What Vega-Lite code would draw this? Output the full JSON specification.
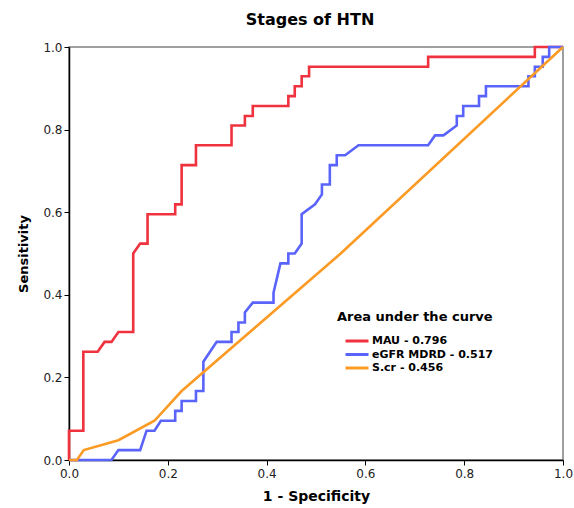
{
  "$schema": "https://vega.github.io/schema/vega-lite/v6.json",
  "width": 494,
  "height": 413,
  "autosize": {"type": "none"},
  "padding": {"left": 69, "top": 47, "right": 11, "bottom": 48},
  "title": {"text": "Stages of HTN", "font": "DejaVu Sans", "fontSize": 16, "fontWeight": "bold", "anchor": "middle", "baseline": "alphabetic", "offset": 0, "dx": -6, "color": "#000"},
  "data": {"values": [
    {"s": "MAU - 0.796", "i": 0, "x": 0, "y": 0},
    {"s": "MAU - 0.796", "i": 1, "x": 0, "y": 0.071},
    {"s": "MAU - 0.796", "i": 2, "x": 0.029, "y": 0.071},
    {"s": "MAU - 0.796", "i": 3, "x": 0.029, "y": 0.262},
    {"s": "MAU - 0.796", "i": 4, "x": 0.058, "y": 0.262},
    {"s": "MAU - 0.796", "i": 5, "x": 0.072, "y": 0.286},
    {"s": "MAU - 0.796", "i": 6, "x": 0.086, "y": 0.286},
    {"s": "MAU - 0.796", "i": 7, "x": 0.1, "y": 0.31},
    {"s": "MAU - 0.796", "i": 8, "x": 0.13, "y": 0.31},
    {"s": "MAU - 0.796", "i": 9, "x": 0.13, "y": 0.5},
    {"s": "MAU - 0.796", "i": 10, "x": 0.144, "y": 0.524},
    {"s": "MAU - 0.796", "i": 11, "x": 0.159, "y": 0.524},
    {"s": "MAU - 0.796", "i": 12, "x": 0.159, "y": 0.595},
    {"s": "MAU - 0.796", "i": 13, "x": 0.215, "y": 0.595},
    {"s": "MAU - 0.796", "i": 14, "x": 0.215, "y": 0.619},
    {"s": "MAU - 0.796", "i": 15, "x": 0.228, "y": 0.619},
    {"s": "MAU - 0.796", "i": 16, "x": 0.228, "y": 0.714},
    {"s": "MAU - 0.796", "i": 17, "x": 0.257, "y": 0.714},
    {"s": "MAU - 0.796", "i": 18, "x": 0.257, "y": 0.762},
    {"s": "MAU - 0.796", "i": 19, "x": 0.329, "y": 0.762},
    {"s": "MAU - 0.796", "i": 20, "x": 0.329, "y": 0.81},
    {"s": "MAU - 0.796", "i": 21, "x": 0.356, "y": 0.81},
    {"s": "MAU - 0.796", "i": 22, "x": 0.356, "y": 0.833},
    {"s": "MAU - 0.796", "i": 23, "x": 0.372, "y": 0.833},
    {"s": "MAU - 0.796", "i": 24, "x": 0.372, "y": 0.857},
    {"s": "MAU - 0.796", "i": 25, "x": 0.444, "y": 0.857},
    {"s": "MAU - 0.796", "i": 26, "x": 0.444, "y": 0.881},
    {"s": "MAU - 0.796", "i": 27, "x": 0.457, "y": 0.881},
    {"s": "MAU - 0.796", "i": 28, "x": 0.457, "y": 0.905},
    {"s": "MAU - 0.796", "i": 29, "x": 0.471, "y": 0.905},
    {"s": "MAU - 0.796", "i": 30, "x": 0.471, "y": 0.929},
    {"s": "MAU - 0.796", "i": 31, "x": 0.486, "y": 0.929},
    {"s": "MAU - 0.796", "i": 32, "x": 0.486, "y": 0.952},
    {"s": "MAU - 0.796", "i": 33, "x": 0.727, "y": 0.952},
    {"s": "MAU - 0.796", "i": 34, "x": 0.727, "y": 0.976},
    {"s": "MAU - 0.796", "i": 35, "x": 0.943, "y": 0.976},
    {"s": "MAU - 0.796", "i": 36, "x": 0.943, "y": 1},
    {"s": "MAU - 0.796", "i": 37, "x": 1, "y": 1},
    {"s": "eGFR MDRD - 0.517", "i": 0, "x": 0, "y": 0},
    {"s": "eGFR MDRD - 0.517", "i": 1, "x": 0.086, "y": 0},
    {"s": "eGFR MDRD - 0.517", "i": 2, "x": 0.1, "y": 0.024},
    {"s": "eGFR MDRD - 0.517", "i": 3, "x": 0.144, "y": 0.024},
    {"s": "eGFR MDRD - 0.517", "i": 4, "x": 0.157, "y": 0.071},
    {"s": "eGFR MDRD - 0.517", "i": 5, "x": 0.173, "y": 0.071},
    {"s": "eGFR MDRD - 0.517", "i": 6, "x": 0.186, "y": 0.095},
    {"s": "eGFR MDRD - 0.517", "i": 7, "x": 0.215, "y": 0.095},
    {"s": "eGFR MDRD - 0.517", "i": 8, "x": 0.215, "y": 0.119},
    {"s": "eGFR MDRD - 0.517", "i": 9, "x": 0.228, "y": 0.119},
    {"s": "eGFR MDRD - 0.517", "i": 10, "x": 0.228, "y": 0.143},
    {"s": "eGFR MDRD - 0.517", "i": 11, "x": 0.257, "y": 0.143},
    {"s": "eGFR MDRD - 0.517", "i": 12, "x": 0.257, "y": 0.167},
    {"s": "eGFR MDRD - 0.517", "i": 13, "x": 0.272, "y": 0.167},
    {"s": "eGFR MDRD - 0.517", "i": 14, "x": 0.272, "y": 0.238},
    {"s": "eGFR MDRD - 0.517", "i": 15, "x": 0.299, "y": 0.286},
    {"s": "eGFR MDRD - 0.517", "i": 16, "x": 0.329, "y": 0.286},
    {"s": "eGFR MDRD - 0.517", "i": 17, "x": 0.329, "y": 0.31},
    {"s": "eGFR MDRD - 0.517", "i": 18, "x": 0.343, "y": 0.31},
    {"s": "eGFR MDRD - 0.517", "i": 19, "x": 0.343, "y": 0.333},
    {"s": "eGFR MDRD - 0.517", "i": 20, "x": 0.356, "y": 0.333},
    {"s": "eGFR MDRD - 0.517", "i": 21, "x": 0.356, "y": 0.357},
    {"s": "eGFR MDRD - 0.517", "i": 22, "x": 0.372, "y": 0.381},
    {"s": "eGFR MDRD - 0.517", "i": 23, "x": 0.414, "y": 0.381},
    {"s": "eGFR MDRD - 0.517", "i": 24, "x": 0.414, "y": 0.405},
    {"s": "eGFR MDRD - 0.517", "i": 25, "x": 0.428, "y": 0.476},
    {"s": "eGFR MDRD - 0.517", "i": 26, "x": 0.444, "y": 0.476},
    {"s": "eGFR MDRD - 0.517", "i": 27, "x": 0.444, "y": 0.5},
    {"s": "eGFR MDRD - 0.517", "i": 28, "x": 0.457, "y": 0.5},
    {"s": "eGFR MDRD - 0.517", "i": 29, "x": 0.471, "y": 0.524},
    {"s": "eGFR MDRD - 0.517", "i": 30, "x": 0.471, "y": 0.595},
    {"s": "eGFR MDRD - 0.517", "i": 31, "x": 0.498, "y": 0.619},
    {"s": "eGFR MDRD - 0.517", "i": 32, "x": 0.512, "y": 0.643},
    {"s": "eGFR MDRD - 0.517", "i": 33, "x": 0.512, "y": 0.667},
    {"s": "eGFR MDRD - 0.517", "i": 34, "x": 0.528, "y": 0.667},
    {"s": "eGFR MDRD - 0.517", "i": 35, "x": 0.528, "y": 0.714},
    {"s": "eGFR MDRD - 0.517", "i": 36, "x": 0.542, "y": 0.714},
    {"s": "eGFR MDRD - 0.517", "i": 37, "x": 0.542, "y": 0.738},
    {"s": "eGFR MDRD - 0.517", "i": 38, "x": 0.559, "y": 0.738},
    {"s": "eGFR MDRD - 0.517", "i": 39, "x": 0.586, "y": 0.762},
    {"s": "eGFR MDRD - 0.517", "i": 40, "x": 0.727, "y": 0.762},
    {"s": "eGFR MDRD - 0.517", "i": 41, "x": 0.741, "y": 0.786},
    {"s": "eGFR MDRD - 0.517", "i": 42, "x": 0.758, "y": 0.786},
    {"s": "eGFR MDRD - 0.517", "i": 43, "x": 0.785, "y": 0.81},
    {"s": "eGFR MDRD - 0.517", "i": 44, "x": 0.785, "y": 0.833},
    {"s": "eGFR MDRD - 0.517", "i": 45, "x": 0.798, "y": 0.833},
    {"s": "eGFR MDRD - 0.517", "i": 46, "x": 0.798, "y": 0.857},
    {"s": "eGFR MDRD - 0.517", "i": 47, "x": 0.83, "y": 0.857},
    {"s": "eGFR MDRD - 0.517", "i": 48, "x": 0.83, "y": 0.881},
    {"s": "eGFR MDRD - 0.517", "i": 49, "x": 0.844, "y": 0.881},
    {"s": "eGFR MDRD - 0.517", "i": 50, "x": 0.844, "y": 0.905},
    {"s": "eGFR MDRD - 0.517", "i": 51, "x": 0.93, "y": 0.905},
    {"s": "eGFR MDRD - 0.517", "i": 52, "x": 0.93, "y": 0.929},
    {"s": "eGFR MDRD - 0.517", "i": 53, "x": 0.943, "y": 0.929},
    {"s": "eGFR MDRD - 0.517", "i": 54, "x": 0.943, "y": 0.952},
    {"s": "eGFR MDRD - 0.517", "i": 55, "x": 0.959, "y": 0.952},
    {"s": "eGFR MDRD - 0.517", "i": 56, "x": 0.959, "y": 0.976},
    {"s": "eGFR MDRD - 0.517", "i": 57, "x": 0.972, "y": 0.976},
    {"s": "eGFR MDRD - 0.517", "i": 58, "x": 0.972, "y": 1},
    {"s": "eGFR MDRD - 0.517", "i": 59, "x": 1, "y": 1},
    {"s": "S.cr - 0.456", "i": 0, "x": 0, "y": 0},
    {"s": "S.cr - 0.456", "i": 1, "x": 0.016, "y": 0},
    {"s": "S.cr - 0.456", "i": 2, "x": 0.03, "y": 0.024},
    {"s": "S.cr - 0.456", "i": 3, "x": 0.1, "y": 0.048},
    {"s": "S.cr - 0.456", "i": 4, "x": 0.173, "y": 0.095},
    {"s": "S.cr - 0.456", "i": 5, "x": 0.228, "y": 0.167},
    {"s": "S.cr - 0.456", "i": 6, "x": 0.55, "y": 0.5},
    {"s": "S.cr - 0.456", "i": 7, "x": 1, "y": 1}
  ]},
  "mark": {"type": "line", "strokeWidth": 2.6, "interpolate": "linear"},
  "encoding": {
    "x": {"field": "x", "type": "quantitative", "scale": {"domain": [0, 1], "nice": false, "zero": false},
      "axis": {"title": "1 - Specificity", "values": [0, 0.2, 0.4, 0.6, 0.8, 1], "format": ".1f", "titlePadding": 10, "labelFlush": false}},
    "y": {"field": "y", "type": "quantitative", "scale": {"domain": [0, 1], "nice": false, "zero": false},
      "axis": {"title": "Sensitivity", "values": [0, 0.2, 0.4, 0.6, 0.8, 1], "format": ".1f", "titlePadding": 12, "labelFlush": false}},
    "color": {"field": "s", "type": "nominal",
      "scale": {"domain": ["MAU - 0.796", "eGFR MDRD - 0.517", "S.cr - 0.456"], "range": ["#f0323e", "#5a64fa", "#fb9a24"]},
      "legend": {"title": "Area under the curve", "orient": "none", "legendX": 268, "legendY": 264}},
    "order": {"field": "i", "type": "quantitative"}
  },
  "config": {
    "font": "DejaVu Sans",
    "view": {"stroke": "#808080", "strokeWidth": 1.5},
    "axis": {"grid": false, "domainColor": "#000", "domainWidth": 1.5, "tickColor": "#000", "tickSize": 5, "labelFont": "DejaVu Sans", "labelFontSize": 12, "labelColor": "#222", "titleFont": "DejaVu Sans", "titleFontWeight": "bold", "titleColor": "#000"},
    "axisX": {"labelPadding": 3, "titleFontSize": 14},
    "axisY": {"labelPadding": 2, "titleFontSize": 13},
    "legend": {"titleFont": "DejaVu Sans", "titleFontSize": 13, "titleFontWeight": "bold", "titleColor": "#000", "titlePadding": 12, "labelFont": "DejaVu Sans", "labelFontSize": 11, "labelFontWeight": "bold", "labelColor": "#000", "symbolType": "stroke", "symbolSize": 529, "symbolStrokeWidth": 3, "symbolOffset": 7, "labelOffset": 2, "clipHeight": 10, "rowPadding": 2.5, "padding": 0}
  }
}
